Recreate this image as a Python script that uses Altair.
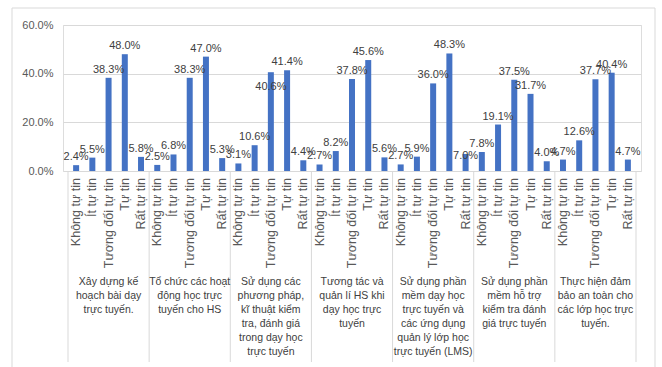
import altair as alt
import pandas as pd

# Confidence levels shown under every group of bars
levels = ["Không tự tin", "Ít tự tin", "Tương đối tự tin", "Tự tin", "Rất tự tin"]

# Skill groups, one list of text lines per group
groups = [
    ["Xây dựng kế", "hoạch bài dạy", "trực tuyến."],
    ["Tổ chức các hoạt", "động học trực", "tuyến cho HS"],
    ["Sử dụng các", "phương pháp,", "kĩ thuật kiểm", "tra, đánh giá", "trong dạy học", "trực tuyến"],
    ["Tương tác và", "quản lí HS khi", "dạy học trực", "tuyến"],
    ["Sử dụng phần", "mềm dạy học", "trực tuyến và", "các ứng dụng", "quản lý lớp học", "trực tuyến (LMS)"],
    ["Sử dụng phần", "mềm hỗ trợ", "kiểm tra đánh", "giá trực tuyến"],
    ["Thực hiện đảm", "bảo an toàn cho", "các lớp học trực", "tuyến."],
]

# Percentages per group, in the order of `levels`
g1 = [2.4, 5.5, 38.3, 48.0, 5.8]
g2 = [2.5, 6.8, 38.3, 47.0, 5.3]
g3 = [3.1, 10.6, 40.6, 41.4, 4.4]
g4 = [2.7, 8.2, 37.8, 45.6, 5.6]
g5 = [2.7, 5.9, 36.0, 48.3, 7.0]
g6 = [7.8, 19.1, 37.5, 31.7, 4.0]
g7 = [4.7, 12.6, 37.7, 40.4, 4.7]
series = [g1, g2, g3, g4, g5, g6, g7]

FONT = "Liberation Sans"
BLUE = "#4472C4"
GRID = "#d9d9d9"
TEXT = "#595959"

W, H = 578, 146

rows = []
for gi, vals in enumerate(series):
    for li, v in enumerate(vals):
        # two labels are tucked lower so they stay clear of their neighbours
        if gi == 2 and li == 2:
            place = "inside"
        elif gi == 4 and li == 4:
            place = "edge"
        else:
            place = "above"
        rows.append({
            "group": gi,
            "level": levels[li],
            "pos": gi * 5 + li + 0.5,
            "value": v / 100.0,
            "place": place,
        })
df = pd.DataFrame(rows)

bounds = pd.DataFrame({"b": [i * 5 for i in range(len(groups) + 1)]})
glabels = pd.DataFrame({"c": [i * 5 + 2.5 for i in range(len(groups))], "t": groups})

xscale = alt.Scale(domain=[0, len(groups) * 5], nice=False, zero=False)
yscale = alt.Scale(domain=[0, 0.6], nice=False)
X = alt.X("pos:Q", scale=xscale, axis=None)

bars = alt.Chart(df).mark_bar(width=6, color=BLUE).encode(
    x=X,
    y=alt.Y("value:Q", scale=yscale, axis=alt.Axis(
        values=[0, 0.1, 0.2, 0.3, 0.4, 0.5, 0.6], format=".1%",
        grid=True, gridColor=GRID, domain=False, ticks=False,
        labelFont=FONT, labelFontSize=11, labelColor=TEXT, labelPadding=10,
        title=None)),
)

# level names under each bar, reading bottom to top
level_text = alt.Chart(df).mark_text(
    font=FONT, fontSize=12.5, color=TEXT, angle=270, align="right", baseline="middle",
).encode(
    x=X,
    y=alt.value(H + 7),
    text="level:N",
)

label_base = alt.Chart(df).encode(
    x=X,
    y=alt.Y("value:Q", scale=yscale),
    text=alt.Text("value:Q", format=".1%"),
)


def value_labels(place, dy):
    return label_base.transform_filter(f"datum.place == '{place}'").mark_text(
        font=FONT, fontSize=11, color="#404040", baseline="middle", dy=dy)


labels_above = value_labels("above", -8)
labels_inside = value_labels("inside", 15)
labels_edge = value_labels("edge", 2)

separators = alt.Chart(bounds).mark_rule(color=GRID, strokeWidth=1).encode(
    x=alt.X("b:Q", scale=xscale, axis=None),
    y=alt.value(H),
    y2=alt.value(H + 191),
)

group_text = alt.Chart(glabels).mark_text(
    font=FONT, fontSize=10.5, color="#404040", baseline="top", align="center",
    lineHeight=14,
).encode(
    x=alt.X("c:Q", scale=xscale, axis=None),
    y=alt.value(252),
    text="t",
)

frame = alt.Chart(pd.DataFrame({"k": [0]})).mark_rect(
    fill=None, stroke=GRID, strokeWidth=1,
).encode(
    x=alt.value(-51), x2=alt.value(592),
    y=alt.value(-17), y2=alt.value(350),
)

chart = alt.layer(
    bars, frame, separators, level_text, labels_above, labels_inside, labels_edge, group_text
).properties(
    width=W, height=H,
    autosize=alt.AutoSizeParams(type="none"),
    padding={"left": 63, "top": 25, "right": 21, "bottom": 196},
).configure_view(stroke=None).configure(background="white")

chart.save("out.html", embed_options={"renderer": "svg", "actions": False})
